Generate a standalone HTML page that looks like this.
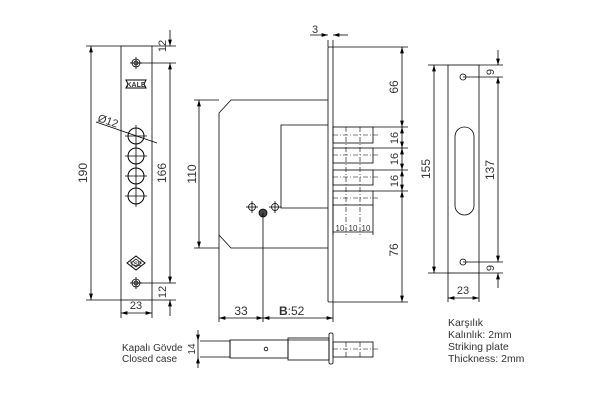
<!DOCTYPE html>
<html><head><meta charset="utf-8"><style>
html,body{margin:0;padding:0;background:#fff;}
svg{display:block;font-family:"Liberation Sans","DejaVu Sans",sans-serif;}
</style></head><body>
<svg width="600" height="400" viewBox="0 0 600 400" xmlns="http://www.w3.org/2000/svg">
<defs>
<marker id="a" viewBox="0 0 10 6" refX="10" refY="3" markerWidth="8" markerHeight="5" orient="auto-start-reverse"><path d="M0,0L10,3L0,6z" fill="#000"/></marker>
</defs>
<g stroke="#000" stroke-width="0.8" fill="none">
<rect x="121" y="46" width="31" height="254"/>
<line x1="86" y1="46" x2="121" y2="46"/><line x1="86" y1="300" x2="121" y2="300"/>
<line x1="91" y1="46" x2="91" y2="300" marker-start="url(#a)" marker-end="url(#a)"/>
<line x1="152" y1="46" x2="176" y2="46"/><line x1="152" y1="300" x2="176" y2="300"/>
<line x1="136" y1="63" x2="176" y2="63"/><line x1="136" y1="283" x2="176" y2="283"/>
<line x1="170" y1="30" x2="170" y2="46" marker-end="url(#a)"/>
<line x1="170" y1="63" x2="170" y2="283" marker-start="url(#a)" marker-end="url(#a)"/>
<line x1="170" y1="300" x2="170" y2="316" marker-start="url(#a)"/>
<circle cx="136" cy="63" r="4"/><circle cx="136" cy="63" r="2"/>
<line x1="130" y1="63" x2="142" y2="63"/><line x1="136" y1="57" x2="136" y2="69"/>
<circle cx="136" cy="283" r="4"/><circle cx="136" cy="283" r="2"/>
<line x1="130" y1="283" x2="142" y2="283"/><line x1="136" y1="277" x2="136" y2="289"/>
<g stroke-width="1">
<circle cx="136" cy="136" r="8"/><circle cx="136" cy="156" r="8"/><circle cx="136" cy="176" r="8"/><circle cx="136" cy="196" r="8"/>
</g>
<line x1="125" y1="136" x2="147" y2="136"/><line x1="136" y1="125" x2="136" y2="147"/>
<line x1="125" y1="156" x2="147" y2="156"/><line x1="136" y1="145" x2="136" y2="167"/>
<line x1="125" y1="176" x2="147" y2="176"/><line x1="136" y1="165" x2="136" y2="187"/>
<line x1="125" y1="196" x2="147" y2="196"/><line x1="136" y1="185" x2="136" y2="207"/>
<line x1="96" y1="122" x2="157" y2="143"/>
<polygon points="126,80 146,80 144,84 146,88 126,88 128,84" stroke-width="1"/>
<polygon points="136,256 145,263 136,270 127,263" stroke-width="1"/>
<polygon points="136,259 141,263 136,267 131,263"/>
<line x1="121" y1="300" x2="121" y2="318"/><line x1="152" y1="300" x2="152" y2="318"/>
<line x1="121" y1="313" x2="152" y2="313" marker-start="url(#a)" marker-end="url(#a)"/>

<rect x="328" y="47" width="5" height="255" rx="1"/>
<polyline points="328,100 231,100 219,113 219,235 231,248 328,248"/>
<polyline points="328,125 281,125 281,208 328,208"/>
<rect x="333" y="127" width="40" height="16"/><rect x="333" y="148" width="40" height="15"/>
<rect x="333" y="170" width="40" height="15"/><rect x="333" y="191" width="40" height="14"/>
<g stroke-dasharray="5,2,1,2" stroke-width="0.6">
<line x1="333" y1="135" x2="380" y2="135"/><line x1="333" y1="155" x2="380" y2="155"/>
<line x1="333" y1="177" x2="380" y2="177"/><line x1="333" y1="198" x2="380" y2="198"/>
<line x1="346" y1="127" x2="346" y2="235"/><line x1="360" y1="127" x2="360" y2="235"/>
</g>
<line x1="333" y1="205" x2="333" y2="235"/><line x1="373" y1="205" x2="373" y2="235"/>
<line x1="333" y1="232" x2="373" y2="232"/>
<line x1="333" y1="47" x2="408" y2="47"/><line x1="333" y1="302" x2="408" y2="302"/>
<line x1="373" y1="127" x2="408" y2="127"/><line x1="373" y1="148" x2="408" y2="148"/>
<line x1="373" y1="170" x2="408" y2="170"/><line x1="373" y1="191" x2="408" y2="191"/>
<line x1="402" y1="47" x2="402" y2="127" marker-start="url(#a)" marker-end="url(#a)"/>
<line x1="402" y1="127" x2="402" y2="148" marker-start="url(#a)" marker-end="url(#a)"/>
<line x1="402" y1="148" x2="402" y2="170" marker-start="url(#a)" marker-end="url(#a)"/>
<line x1="402" y1="170" x2="402" y2="191" marker-start="url(#a)" marker-end="url(#a)"/>
<line x1="402" y1="191" x2="402" y2="302" marker-start="url(#a)" marker-end="url(#a)"/>
<line x1="194" y1="100" x2="219" y2="100"/><line x1="194" y1="248" x2="219" y2="248"/>
<line x1="199" y1="100" x2="199" y2="248" marker-start="url(#a)" marker-end="url(#a)"/>
<line x1="328" y1="40" x2="328" y2="47"/><line x1="333" y1="40" x2="333" y2="47"/>
<line x1="310" y1="35" x2="328" y2="35" marker-end="url(#a)"/><line x1="348" y1="35" x2="333" y2="35" marker-end="url(#a)"/>
<circle cx="252" cy="207" r="3.5"/><line x1="246" y1="207" x2="258" y2="207"/><line x1="252" y1="201" x2="252" y2="213"/>
<circle cx="275" cy="207" r="3.5"/><line x1="269" y1="207" x2="281" y2="207"/><line x1="275" y1="201" x2="275" y2="213"/>
<circle cx="263" cy="213" r="4" fill="#444"/>
<line x1="219" y1="235" x2="219" y2="322"/><line x1="263" y1="213" x2="263" y2="322"/>
<line x1="333" y1="302" x2="333" y2="322"/>
<line x1="219" y1="318" x2="263" y2="318" marker-start="url(#a)" marker-end="url(#a)"/>
<line x1="263" y1="318" x2="333" y2="318" marker-start="url(#a)" marker-end="url(#a)"/>

<rect x="448" y="65" width="31" height="208"/>
<rect x="455" y="127" width="19" height="88" rx="9.5"/>
<circle cx="463" cy="77" r="3"/><circle cx="463" cy="262" r="3"/>
<line x1="428" y1="65" x2="448" y2="65"/><line x1="428" y1="273" x2="448" y2="273"/>
<line x1="434" y1="65" x2="434" y2="273" marker-start="url(#a)" marker-end="url(#a)"/>
<line x1="479" y1="65" x2="503" y2="65"/><line x1="479" y1="273" x2="503" y2="273"/>
<line x1="463" y1="77" x2="503" y2="77"/><line x1="463" y1="262" x2="503" y2="262"/>
<line x1="498" y1="50" x2="498" y2="65" marker-end="url(#a)"/>
<line x1="498" y1="77" x2="498" y2="262" marker-start="url(#a)" marker-end="url(#a)"/>
<line x1="498" y1="288" x2="498" y2="273" marker-end="url(#a)"/>
<line x1="448" y1="273" x2="448" y2="302"/><line x1="479" y1="273" x2="479" y2="302"/>
<line x1="448" y1="298" x2="479" y2="298" marker-start="url(#a)" marker-end="url(#a)"/>

<line x1="200" y1="341" x2="220" y2="341"/><line x1="200" y1="357" x2="220" y2="357"/>
<line x1="198" y1="330" x2="198" y2="341" marker-end="url(#a)"/>
<line x1="198" y1="368" x2="198" y2="357" marker-end="url(#a)"/>
<line x1="198" y1="341" x2="198" y2="357"/>
<polyline points="220,341 230,341 230,357 220,357"/>
<rect x="230" y="340" width="58" height="18"/>
<rect x="288" y="338" width="41" height="22"/>
<line x1="288" y1="340" x2="329" y2="340"/>
<rect x="329" y="333" width="4" height="31" rx="1.5"/>
<rect x="333" y="342" width="40" height="15"/>
<circle cx="266" cy="349" r="1.8"/>
<g stroke-dasharray="5,2,1,2" stroke-width="0.6">
<line x1="333" y1="349" x2="380" y2="349"/><line x1="346" y1="342" x2="346" y2="357"/><line x1="360" y1="342" x2="360" y2="357"/>
</g>
</g>
<g fill="#333" font-size="12">
<text transform="translate(87,173) rotate(-90)" text-anchor="middle">190</text>
<text transform="translate(166,173) rotate(-90)" text-anchor="middle">166</text>
<text transform="translate(166,46) rotate(-90)" text-anchor="middle" font-size="11">12</text>
<text transform="translate(166,292) rotate(-90)" text-anchor="middle" font-size="11">12</text>
<text x="136" y="309" text-anchor="middle" font-size="11">23</text>
<text transform="translate(97,121) rotate(19)" font-size="11">Ø12</text>
<text x="136" y="87" text-anchor="middle" font-size="7" font-weight="bold">KALE</text>
<text x="136" y="266" text-anchor="middle" font-size="6" font-weight="bold">TSE</text>
<text transform="translate(196,174) rotate(-90)" text-anchor="middle">110</text>
<text x="312" y="33" font-size="11">3</text>
<text transform="translate(398,87) rotate(-90)" text-anchor="middle">66</text>
<text transform="translate(398,138) rotate(-90)" text-anchor="middle" font-size="11">16</text>
<text transform="translate(398,159) rotate(-90)" text-anchor="middle" font-size="11">16</text>
<text transform="translate(398,181) rotate(-90)" text-anchor="middle" font-size="11">16</text>
<text transform="translate(398,250) rotate(-90)" text-anchor="middle">76</text>
<text x="340" y="231" text-anchor="middle" font-size="8">10</text>
<text x="353" y="231" text-anchor="middle" font-size="8">10</text>
<text x="366" y="231" text-anchor="middle" font-size="8">10</text>
<text x="241" y="315" text-anchor="middle">33</text>
<text x="279" y="315"><tspan font-weight="bold">B</tspan>:52</text>
<text transform="translate(430,169) rotate(-90)" text-anchor="middle">155</text>
<text transform="translate(494,170) rotate(-90)" text-anchor="middle">137</text>
<text transform="translate(494,72) rotate(-90)" text-anchor="middle" font-size="11">9</text>
<text transform="translate(494,268) rotate(-90)" text-anchor="middle" font-size="11">9</text>
<text x="463" y="294" text-anchor="middle" font-size="11">23</text>
<g font-size="10.5">
<text x="448" y="326">Karşılık</text>
<text x="448" y="338">Kalınlık: 2mm</text>
<text x="448" y="350">Striking plate</text>
<text x="448" y="362">Thickness: 2mm</text>
</g>
<g font-size="10">
<text x="122" y="351">Kapalı Gövde</text>
<text x="122" y="362">Closed case</text>
</g>
<text transform="translate(195,349) rotate(-90)" text-anchor="middle" font-size="10">14</text>
</g>
</svg>
</body></html>
